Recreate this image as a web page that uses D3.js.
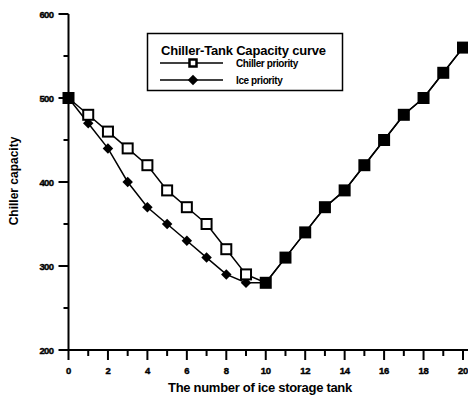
<!DOCTYPE html>
<html>
<head>
<meta charset="utf-8">
<script src="https://cdn.jsdelivr.net/npm/d3@7"></script>
<style>
  body { margin: 0; background: #fff; }
  text { font-family: "Liberation Sans", Arial, sans-serif; font-weight: bold; fill: #000; }
</style>
</head>
<body>
<div id="chart"></div>
<script>
// chart values
const tanks = d3.range(0, 21);
const chillerPriority = [500, 480, 460, 440, 420, 390, 370, 350, 320, 290, 280, 310, 340, 370, 390, 420, 450, 480, 500, 530, 560];
const icePriority = [500, 470, 440, 400, 370, 350, 330, 310, 290, 280, 280, 310, 340, 370, 390, 420, 450, 480, 500, 530, 560];
const yTicks = [200, 300, 400, 500, 600];
const xTicks = [0, 2, 4, 6, 8, 10, 12, 14, 16, 18, 20];

const W = 468, H = 398;
const svg = d3.select("#chart").append("svg")
    .attr("width", W)
    .attr("height", H);

const x = d3.scaleLinear().domain([0, 20]).range([68.5, 463]);
const y = d3.scaleLinear().domain([200, 600]).range([350, 14]);

// y axis
const yAxis = svg.append("g").attr("transform", "translate(68.5,0)");
yAxis.append("line").attr("y1", y(600)).attr("y2", y(200) + 1).attr("stroke", "#000").attr("stroke-width", 2);
yAxis.selectAll(".ymaj").data(yTicks).join("line")
    .attr("x1", -10).attr("x2", 0).attr("y1", d => y(d)).attr("y2", d => y(d))
    .attr("stroke", "#000").attr("stroke-width", 2);
yAxis.selectAll(".ymin").data(d3.range(250, 600, 100)).join("line")
    .attr("x1", -5).attr("x2", 0).attr("y1", d => y(d)).attr("y2", d => y(d))
    .attr("stroke", "#000").attr("stroke-width", 2);
yAxis.selectAll(".ylab").data(yTicks).join("text")
    .attr("x", -15).attr("y", d => y(d) + 3.5)
    .attr("text-anchor", "end")
    .style("font-size", "9.5px")
    .style("letter-spacing", "-0.6px")
    .attr("stroke", "#000").attr("stroke-width", 0.4)
    .text(d => d);

// x axis
const xAxis = svg.append("g").attr("transform", "translate(0,350)");
xAxis.append("line").attr("x1", x(0) - 1).attr("x2", 468).attr("stroke", "#000").attr("stroke-width", 2);
xAxis.selectAll(".xmaj").data(xTicks).join("line")
    .attr("x1", d => x(d)).attr("x2", d => x(d)).attr("y1", 0).attr("y2", 10)
    .attr("stroke", "#000").attr("stroke-width", 2);
xAxis.selectAll(".xmin").data(d3.range(1, 20, 2)).join("line")
    .attr("x1", d => x(d)).attr("x2", d => x(d)).attr("y1", 0).attr("y2", 6)
    .attr("stroke", "#000").attr("stroke-width", 2);
xAxis.selectAll(".xlab").data(xTicks).join("text")
    .attr("x", d => x(d)).attr("y", 24)
    .attr("text-anchor", "middle")
    .style("font-size", "9.5px")
    .style("letter-spacing", "-0.3px")
    .attr("stroke", "#000").attr("stroke-width", 0.4)
    .text(d => d);

// axis titles
svg.append("text")
    .attr("x", 260).attr("y", 392)
    .attr("text-anchor", "middle")
    .style("font-size", "13px")
    .style("letter-spacing", "-0.3px")
    .text("The number of ice storage tank");
svg.append("text")
    .attr("transform", "translate(18,181) rotate(-90)")
    .attr("text-anchor", "middle")
    .style("font-size", "12px")
    .text("Chiller capacity");

// lines
const line = d3.line().x((d, i) => x(tanks[i])).y(d => y(d));
svg.append("path").datum(icePriority).attr("d", line)
    .attr("fill", "none").attr("stroke", "#000").attr("stroke-width", 1.5);
svg.append("path").datum(chillerPriority).attr("d", line)
    .attr("fill", "none").attr("stroke", "#000").attr("stroke-width", 1.5);

// markers
const diamond = d3.symbol().type(d3.symbolDiamond2).size(70);
svg.selectAll(".ice").data(icePriority).join("path")
    .attr("transform", (d, i) => `translate(${x(tanks[i])},${y(d)})`)
    .attr("d", diamond)
    .attr("fill", "#000");
svg.selectAll(".chill").data(chillerPriority).join("rect")
    .attr("x", (d, i) => x(tanks[i]) - 5)
    .attr("y", d => y(d) - 5)
    .attr("width", 10).attr("height", 10)
    .attr("fill", (d, i) => d === icePriority[i] ? "#000" : "#fff")
    .attr("stroke", "#000").attr("stroke-width", 2);

// legend
const lg = svg.append("g");
lg.append("rect").attr("x", 147.5).attr("y", 33.5).attr("width", 195).attr("height", 57)
    .attr("fill", "#fff").attr("stroke", "#000").attr("stroke-width", 1.5);
lg.append("text").attr("x", 161).attr("y", 55)
    .style("font-size", "13px").style("letter-spacing", "-0.2px")
    .text("Chiller-Tank Capacity curve");
const items = [["Chiller priority", "square"], ["Ice priority", "diamond"]];
items.forEach((it, i) => {
    const ly = 63 + i * 17;
    lg.append("line").attr("x1", 160).attr("x2", 223).attr("y1", ly).attr("y2", ly)
        .attr("stroke", "#000").attr("stroke-width", 1.5);
    if (it[1] === "square") {
        lg.append("rect").attr("x", 189.5).attr("y", ly - 3.5).attr("width", 7).attr("height", 7)
            .attr("fill", "#fff").attr("stroke", "#000").attr("stroke-width", 2.5);
    } else {
        lg.append("path").attr("transform", `translate(193,${ly})`).attr("d", diamond).attr("fill", "#000");
    }
    lg.append("text").attr("x", 236).attr("y", ly + 4)
        .style("font-size", "10px").style("letter-spacing", "-0.4px")
        .text(it[0]);
});
</script>
</body>
</html>
